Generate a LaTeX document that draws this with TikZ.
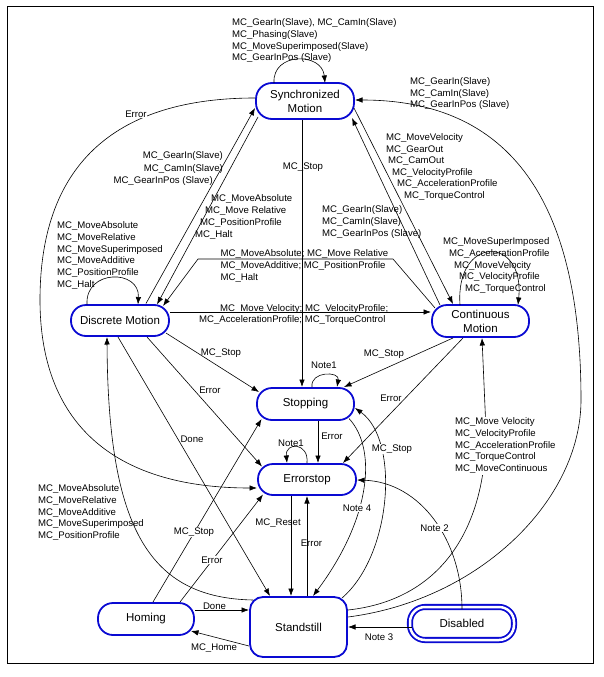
\documentclass[tikz,border=0pt]{standalone}
\usepackage{fontspec}
\setmainfont{Liberation Sans}
\usetikzlibrary{arrows.meta,calc}
\definecolor{stblue}{RGB}{10,10,210}
\begin{document}
\begin{tikzpicture}[x=1pt,y=-1pt,
  state/.style={draw=stblue, line width=1.8pt, rounded corners=15pt, fill=white, inner sep=0pt, align=center, font=\fontsize{11.5}{13.8}\selectfont},
  lbl/.style={inner sep=0pt, font=\fontsize{9.6}{11.8}\selectfont, align=left, anchor=north west},
  slbl/.style={inner sep=0.8pt, font=\fontsize{9.6}{11.8}\selectfont},
  wl/.style={fill=white},
  tr/.style={line width=0.6pt, -{Latex[length=7.5pt,width=5.5pt]}}
]
\useasboundingbox (0,0) rectangle (604,677);
\draw[line width=0.9pt] (7,6) rectangle (593,663);

% states
\node[state, minimum width=98pt, minimum height=36pt, rounded corners=16pt] (sync) at (305,101) {Synchronized\\Motion};
\node[state, minimum width=98pt, minimum height=31pt] (disc) at (120,320.5) {Discrete Motion};
\node[state, minimum width=97pt, minimum height=32pt] (cont) at (480.5,321) {Continuous\\Motion};
\node[state, minimum width=97pt, minimum height=32pt] (stop) at (305.5,404) {Stopping};
\node[state, minimum width=98pt, minimum height=31pt] (err) at (307,479.5) {Errorstop};
\node[state, minimum width=97pt, minimum height=60pt, rounded corners=13pt] (stand) at (298.5,627) {Standstill};
\node[state, minimum width=96pt, minimum height=32pt] (hom) at (146,619) {Homing};
\node[state, double=white, double distance=2.5pt, minimum width=104pt, minimum height=33pt] (dis) at (462,623.5) {Disabled};

% transitions
\draw[tr] ($(sync)+(-31,-18)$) .. controls ($(sync)+(-33,-49)$) and ($(sync)+(17,-49)$) .. ($(sync)+(20,-18)$);
\draw[tr] ($(sync)+(-50,-3)$) .. controls (120,98) and (40,160) .. (40,300) .. controls (40,420) and (110,488) .. ($(err)+(-50,8.5)$);
\draw[tr] ($(disc)+(26,-17)$) -- ($(sync)+(-50,7)$);
\draw[tr] ($(sync)+(-47,16)$) -- ($(disc)+(37,-16)$);
\draw[tr] ($(sync)+(-3,19)$) -- ($(stop)+(-3.5,-17)$);
\draw[tr] ($(sync)+(49,7)$) -- ($(cont)+(-27.5,-17)$);
\draw[tr] ($(cont)+(-40.5,-16)$) -- ($(sync)+(47,17)$);
\draw[tr] ($(disc)+(-33,-16)$) .. controls ($(disc)+(-35,-51.5)$) and ($(disc)+(20,-51.5)$) .. ($(disc)+(18,-16)$);
\draw[tr] ($(cont)+(-45.5,-13)$) -- (393,259) -- (198,259) -- ($(disc)+(43,-14.5)$);
\draw[tr] ($(disc)+(50,-8.5)$) -- ($(cont)+(-49.5,-9)$);
\draw[tr] ($(cont)+(-20.5,-16)$) .. controls ($(cont)+(-25.5,-86)$) and ($(cont)+(44.5,-86)$) .. ($(cont)+(37.5,-16)$);
\draw[tr] ($(disc)+(46,12.5)$) -- ($(stop)+(-46.5,-12)$);
\draw[tr] ($(disc)+(27,16.5)$) -- ($(err)+(-45,-13)$);
\draw[tr] ($(disc)+(-2,16.5)$) -- ($(stand)+(-28.5,-31)$);
\draw[tr] ($(stand)+(-45.5,-27)$) .. controls (150,598) and (108,530) .. ($(disc)+(-13,16.5)$);
\draw[tr] ($(cont)+(-27.5,17)$) -- ($(stop)+(38.5,-17)$);
\draw[tr] ($(cont)+(-17.5,17)$) -- ($(err)+(36,-16.5)$);
\draw[tr] ($(stop)+(6.5,-17)$) .. controls ($(stop)+(4.5,-33)$) and ($(stop)+(34.5,-33)$) .. ($(stop)+(31.5,-17)$);
\draw[tr] ($(stop)+(12.5,17)$) -- ($(err)+(11,-16.5)$);
\draw[tr] ($(err)+(0,-16.5)$) .. controls ($(err)+(2,-37.5)$) and ($(err)+(-22,-37.5)$) .. ($(err)+(-20,-16.5)$);
\draw[tr] ($(stop)+(43.5,14.5)$) .. controls (378,450) and (370,520) .. ($(stand)+(14.5,-31)$);
\draw[tr] ($(stand)+(43.5,-29)$) .. controls (392,555) and (400,440) .. ($(stop)+(49.5,4)$);
\draw[tr] ($(err)+(-16,16.5)$) -- ($(stand)+(-7.5,-31)$);
\draw[tr] ($(stand)+(8.5,-31)$) -- ($(err)+(0,16.5)$);
\draw[tr] ($(stand)+(49.5,-17)$) .. controls (440,600) and (486,530) .. (486,430) -- ($(cont)+(1.5,17)$);
\draw[tr] ($(stand)+(49.5,-10)$) .. controls (480,600) and (581,500) .. (581,400) .. controls (581,230) and (530,100) .. ($(sync)+(50,-1)$);
\draw[tr] ($(dis)+(-50,3.5)$) -- ($(stand)+(49.5,0)$);
\draw[tr] ($(dis)+(0,-14.5)$) .. controls (462,540) and (420,482) .. ($(err)+(50,0.5)$);
\draw[tr] ($(hom)+(49,-9)$) -- ($(stand)+(-49.5,-17)$);
\draw[tr] ($(stand)+(-49.5,19)$) -- ($(hom)+(45,12)$);
\draw[tr] ($(hom)+(7,-17)$) -- ($(stop)+(-44,15)$);
\draw[tr] ($(hom)+(34,-17)$) -- ($(err)+(-44,15)$);

% labels
\node[lbl] (l1) at (232,18.4) {MC\_GearIn(Slave), MC\_CamIn(Slave)\\MC\_Phasing(Slave)\\MC\_MoveSuperimposed(Slave)\\MC\_GearInPos (Slave)};
\node[slbl, wl] (l2) at (136,114) {Error};
\node[lbl, anchor=north east, align=right, font=\fontsize{9.6}{12.3}\selectfont] (l3) at (223,151.7) {MC\_GearIn(Slave)\\MC\_CamIn(Slave)\hspace*{5pt}\\MC\_GearInPos (Slave)\hspace*{10pt}};
\node[lbl, font=\fontsize{9.6}{12}\selectfont] (l4) at (195,194.4) {\hspace*{16pt}MC\_MoveAbsolute\\\hspace*{10pt}MC\_Move Relative\\\hspace*{5pt}MC\_PositionProfile\\MC\_Halt};
\node[slbl] (l5) at (303,167) {MC\_Stop};
\node[lbl] (l6) at (57,221.4) {MC\_MoveAbsolute\\MC\_MoveRelative\\MC\_MoveSuperimposed\\MC\_MoveAdditive\\MC\_PositionProfile\\MC\_Halt};
\node[lbl, font=\fontsize{9.6}{12.2}\selectfont] (l7) at (220.5,249.4) {MC\_MoveAbsolute; MC\_Move Relative\\MC\_MoveAdditive; MC\_PositionProfile\\MC\_Halt};
\node[lbl, font=\fontsize{9.6}{11}\selectfont] (l8) at (199,304.4) {\hspace*{21pt}MC\_Move Velocity; MC\_VelocityProfile;\\MC\_AccelerationProfile; MC\_TorqueControl};
\node[lbl, font=\fontsize{9.6}{11.6}\selectfont] (l9) at (386,133.4) {MC\_MoveVelocity\\MC\_GearOut\\\hspace*{2pt}MC\_CamOut\\\hspace*{6pt}MC\_VelocityProfile\\\hspace*{11pt}MC\_AccelerationProfile\\\hspace*{18pt}MC\_TorqueControl};
\node[lbl] (l10) at (322,205.4) {MC\_GearIn(Slave)\\MC\_CamIn(Slave)\\MC\_GearInPos (Slave)};
\node[lbl, font=\fontsize{9.6}{11.5}\selectfont] (l11) at (410,77.4) {MC\_GearIn(Slave)\\MC\_CamIn(Slave)\\MC\_GearInPos (Slave)};
\node[lbl] (l12) at (443,237.4) {MC\_MoveSuperImposed\\\hspace*{6pt}MC\_AccelerationProfile\\\hspace*{11pt}MC\_MoveVelocity\\\hspace*{16pt}MC\_VelocityProfile\\\hspace*{22pt}MC\_TorqueControl};
\node[slbl] (l13) at (221,353) {MC\_Stop};
\node[slbl] (l14) at (210,390) {Error};
\node[slbl] (l15) at (192,439) {Done};
\node[slbl] (l16) at (384,354) {MC\_Stop};
\node[slbl] (l17) at (324,365) {Note1};
\node[slbl] (l18) at (391,398) {Error};
\node[slbl] (l19) at (332,436) {Error};
\node[slbl] (l20) at (291,443) {Note1};
\node[slbl, wl] (l21) at (392,449) {MC\_Stop};
\node[slbl, wl] (l22) at (357,508) {Note 4};
\node[slbl, wl] (l23) at (434.5,528) {Note 2};
\node[lbl, fill=white, inner sep=1pt] (l24) at (454,416.4) {MC\_Move Velocity\\MC\_VelocityProfile\\MC\_AccelerationProfile\\MC\_TorqueControl\\MC\_MoveContinuous};
\node[slbl] (l25) at (278,523) {MC\_Reset};
\node[slbl] (l26) at (311.5,543) {Error};
\node[slbl] (l27) at (379,637) {Note 3};
\node[slbl] (l28) at (214.5,606) {Done};
\node[slbl] (l29) at (214,648) {MC\_Home};
\node[slbl, wl] (l30) at (194,532) {MC\_Stop};
\node[slbl, wl] (l31) at (212,560) {Error};
\node[lbl] (l32) at (38,484.4) {MC\_MoveAbsolute\\MC\_MoveRelative\\MC\_MoveAdditive\\MC\_MoveSuperimposed\\MC\_PositionProfile};
\end{tikzpicture}
\end{document}
